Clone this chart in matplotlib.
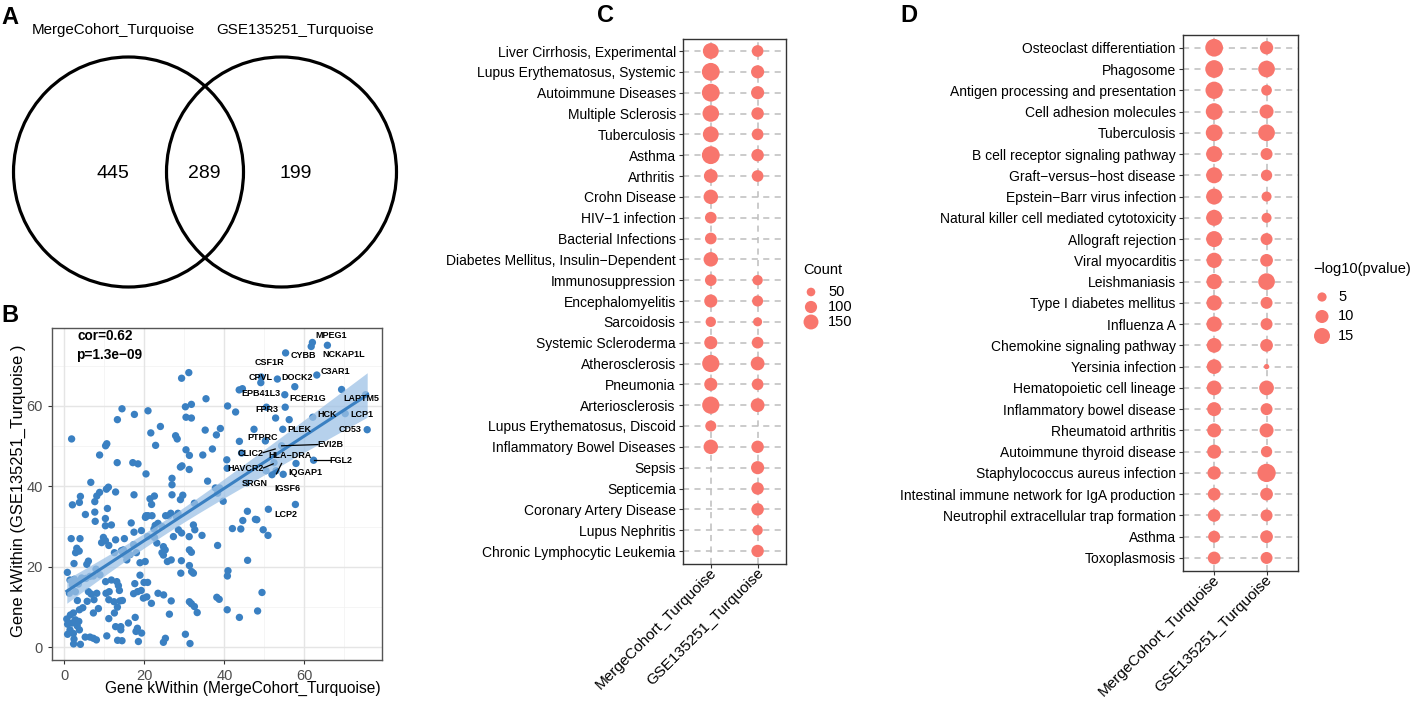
import numpy as np
import matplotlib
matplotlib.use('Agg')
import matplotlib.pyplot as plt
from matplotlib.patches import Circle

plt.rcParams['font.family'] = ['Liberation Sans', 'DejaVu Sans']
M = '\u2212'

# ---------------- data ----------------
venn_sets = ['MergeCohort_Turquoise', 'GSE135251_Turquoise']
venn_counts = [445, 289, 199]  # only left, both, only right

# (kWithin Merge, kWithin GSE)
kw_points = [
    (62.0, 75.8), (61.7, 74.8), (65.75, 75.1), (55.3, 73.2), (49.2, 67.2), (49.1, 65.8), (53.25, 66.7),
    (63.1, 67.7), (57.6, 64.8), (43.7, 64.0), (44.5, 64.3), (55.1, 62.8), (69.3, 64.1), (75.3, 62.8),
    (50.5, 59.7), (55.2, 59.7), (52.8, 57.0), (56.2, 56.6), (62.1, 57.2), (70.2, 58.1), (75.7, 54.1),
    (54.6, 54.2), (47.4, 54.2), (50.25, 51.3), (43.75, 51.2), (54.3, 50.1), (44.3, 48.3), (52.4, 45.9),
    (57.9, 45.7), (62.3, 46.5), (50.4, 43.9), (52.9, 43.9), (51.9, 42.9), (54.7, 43.0), (40.7, 44.5),
    (40.6, 46.6), (57.75, 35.5), (45.6, 40.9),
    (29.3, 66.9), (31.1, 68.3), (35.4, 61.8), (30.25, 59.8), (31.75, 60.4), (30.4, 57.2), (31.75, 57.0),
    (40.8, 60.0), (42.8, 58.5), (14.4, 59.3), (17.5, 57.9), (20.9, 58.8), (13.25, 56.6), (24.0, 54.9),
    (21.6, 53.3), (22.8, 50.2), (27.8, 52.6), (28.2, 51.8), (35.2, 54.0), (39.0, 54.4), (38.0, 52.8),
    (37.0, 49.3), (34.6, 47.8), (30.4, 49.1), (31.25, 47.7), (31.2, 44.2), (29.0, 44.8), (29.4, 45.1),
    (20.4, 43.1), (22.5, 37.6), (21.4, 36.9), (21.8, 35.5), (20.9, 32.7), (20.4, 32.7), (22.7, 30.3),
    (23.4, 30.8),
    (1.8, 51.8), (10.6, 50.6), (10.3, 50.1), (8.8, 47.8), (13.2, 45.9), (17.1, 45.9), (18.4, 45.6),
    (6.6, 41.0), (11.0, 39.8), (10.5, 39.3), (12.8, 38.6), (8.8, 38.5), (8.1, 37.6), (7.6, 36.2),
    (4.0, 37.5), (3.75, 36.0), (2.0, 35.4), (17.4, 37.9), (5.25, 33.0), (7.6, 33.6), (10.75, 34.5),
    (10.25, 32.0), (7.7, 31.3), (11.75, 30.4), (10.25, 30.2), (16.7, 30.9), (17.4, 28.6), (19.25, 29.0),
    (9.75, 27.3), (10.25, 26.5), (9.3, 26.0), (11.1, 25.3), (12.8, 26.7), (15.0, 27.0), (17.3, 25.5),
    (14.25, 24.0), (14.9, 23.1), (12.5, 23.5), (3.7, 23.9), (3.1, 24.6), (2.8, 23.5), (3.9, 27.0),
    (1.7, 27.0), (6.0, 21.4), (5.6, 20.6), (2.4, 20.8), (0.75, 18.6), (7.9, 19.4), (8.9, 18.0),
    (18.9, 21.0), (20.2, 21.3), (15.6, 21.7), (16.4, 23.0), (18.0, 23.5),
    (1.4, 16.7), (2.5, 16.9), (3.1, 16.3), (4.3, 17.2), (5.4, 17.1), (6.4, 17.6), (7.25, 17.7),
    (2.0, 15.5), (3.5, 15.7), (1.25, 13.4), (2.75, 13.8), (6.0, 13.8), (6.7, 13.2), (8.1, 13.4),
    (7.4, 11.8), (3.25, 11.6), (4.6, 9.8), (5.7, 11.4), (8.5, 9.6), (7.25, 8.5), (3.75, 9.3),
    (0.6, 7.0), (1.5, 8.0), (2.25, 8.5), (0.8, 5.7), (1.9, 6.0), (3.6, 6.4), (3.2, 5.3), (1.4, 4.3),
    (2.25, 3.4), (0.8, 3.2), (2.4, 2.0), (2.3, 0.8), (4.0, 0.7), (3.75, 4.3), (5.2, 2.5), (7.25, 2.2),
    (8.0, 1.8), (6.4, 2.5), (10.6, 2.8), (2.75, 6.8),
    (10.3, 16.3), (11.75, 16.7), (13.1, 16.3), (13.5, 15.3), (11.2, 13.8), (10.4, 13.4), (13.75, 14.1),
    (11.1, 11.8), (12.4, 11.3), (13.9, 11.5), (14.5, 11.6), (13.25, 9.95), (12.5, 8.5), (11.1, 7.1),
    (12.8, 5.1), (14.1, 5.1), (14.1, 4.3), (16.0, 6.0), (13.3, 1.7), (14.4, 1.6), (18.5, 1.4),
    (17.3, 13.3), (18.3, 13.8), (17.6, 15.8), (18.9, 17.9), (19.9, 16.1), (20.8, 16.1), (20.6, 12.5),
    (19.2, 14.1), (19.75, 12.2), (21.75, 10.9), (17.7, 7.4), (17.9, 3.9), (18.25, 4.7), (19.3, 3.5),
    (23.4, 13.4), (24.8, 13.0), (26.7, 11.5), (26.25, 8.2), (24.75, 1.2), (25.25, 2.2), (30.25, 3.2),
    (31.4, 0.9), (31.25, 11.3), (31.75, 10.8), (32.5, 10.1), (33.2, 8.6), (29.1, 18.4), (29.25, 21.5),
    (31.25, 20.3), (31.8, 18.8), (32.25, 18.4), (31.25, 24.2), (31.75, 23.6), (31.2, 27.5), (32.25, 30.4),
    (32.6, 29.2), (34.4, 27.8), (32.5, 35.8), (29.0, 36.7), (28.5, 29.2), (29.3, 28.4), (27.25, 27.5),
    (24.75, 25.0), (25.2, 24.2), (24.4, 23.5), (24.75, 22.9), (26.7, 21.7), (25.75, 21.3), (23.1, 25.9),
    (22.5, 27.3), (26.6, 33.3), (25.3, 32.7), (26.1, 32.7), (26.9, 37.9), (26.9, 40.4), (26.9, 42.0),
    (29.6, 37.8), (28.4, 33.3), (28.0, 32.5),
    (38.3, 38.3), (37.75, 39.6), (38.8, 39.6), (39.7, 36.3), (38.3, 25.3), (38.1, 12.4), (38.7, 11.9),
    (42.0, 29.5), (44.1, 29.4), (44.6, 31.5), (45.75, 33.8), (47.75, 31.8), (48.1, 31.7), (45.8, 21.6),
    (40.7, 9.3), (43.75, 7.4), (40.75, 17.7), (40.9, 19.0), (51.0, 34.3), (49.7, 29.2), (50.9, 27.8),
    (49.4, 13.6), (48.3, 9.0), (35.8, 41.3), (20.25, 32.3), (21.9, 32.7), (20.8, 27.5), (22.4, 29.4),
    (24.4, 30.0), (14.75, 24.2),
]
cor_text = ['cor=0.62', 'p=1.3e' + M + '09']

# gene label: (name, label x, label y, segment (x0, y0, x1, y1) or None)
gene_labels = [
    ('MPEG1', 66.8, 77.6, None), ('NCKAP1L', 69.75, 72.8, None), ('CYBB', 59.75, 72.5, None),
    ('CSF1R', 51.25, 70.8, None), ('CPVL', 49.1, 67.0, None), ('DOCK2', 58.25, 67.0, None),
    ('C3AR1', 67.8, 68.5, None), ('EPB41L3', 49.25, 63.1, None), ('FCER1G', 60.7, 61.9, None),
    ('LAPTM5', 74.2, 61.9, None), ('FPR3', 50.6, 59.2, None), ('HCK', 65.8, 58.0, None),
    ('LCP1', 74.3, 58.0, None), ('PLEK', 58.7, 54.1, None), ('CD53', 71.4, 54.1, None),
    ('PTPRC', 49.6, 52.2, None), ('EVI2B', 66.6, 50.3, (63.4, 50.4, 54.3, 50.1)),
    ('CLIC2', 46.6, 48.2, (49.7, 48.4, 52.7, 49.3)), ('HLA' + M + 'DRA', 56.5, 47.6, (54.3, 45.7, 53.0, 43.1)),
    ('FGL2', 69.1, 46.5, (66.5, 46.5, 62.3, 46.5)), ('HAVCR2', 45.3, 44.4, (49.8, 44.6, 52.2, 45.6)),
    ('IQGAP1', 60.3, 43.4, None), ('SRGN', 47.7, 40.6, None), ('IGSF6', 55.75, 39.5, None),
    ('LCP2', 55.4, 33.1, None),
]

do_terms = ['Liver Cirrhosis, Experimental', 'Lupus Erythematosus, Systemic', 'Autoimmune Diseases',
            'Multiple Sclerosis', 'Tuberculosis', 'Asthma', 'Arthritis', 'Crohn Disease',
            'HIV' + M + '1 infection', 'Bacterial Infections', 'Diabetes Mellitus, Insulin' + M + 'Dependent',
            'Immunosuppression', 'Encephalomyelitis', 'Sarcoidosis', 'Systemic Scleroderma',
            'Atherosclerosis', 'Pneumonia', 'Arteriosclerosis', 'Lupus Erythematosus, Discoid',
            'Inflammatory Bowel Diseases', 'Sepsis', 'Septicemia', 'Coronary Artery Disease',
            'Lupus Nephritis', 'Chronic Lymphocytic Leukemia']
nan = np.nan
do_count_merge = [169, 214, 214, 184, 169, 214, 128, 141, 92, 92, 141, 92, 116, 72, 116,
                  200, 116, 200, 82, 141, nan, nan, nan, nan, nan]
do_count_gse = [92, 116, 116, 104, 92, 104, 92, nan, nan, nan, nan, 72, 82, 55, 92,
                128, 92, 128, nan, 104, 116, 104, 104, 72, 104]
count_breaks = [50, 100, 150]

kegg_terms = ['Osteoclast differentiation', 'Phagosome', 'Antigen processing and presentation',
              'Cell adhesion molecules', 'Tuberculosis', 'B cell receptor signaling pathway',
              'Graft' + M + 'versus' + M + 'host disease', 'Epstein' + M + 'Barr virus infection',
              'Natural killer cell mediated cytotoxicity', 'Allograft rejection', 'Viral myocarditis',
              'Leishmaniasis', 'Type I diabetes mellitus', 'Influenza A', 'Chemokine signaling pathway',
              'Yersinia infection', 'Hematopoietic cell lineage', 'Inflammatory bowel disease',
              'Rheumatoid arthritis', 'Autoimmune thyroid disease', 'Staphylococcus aureus infection',
              'Intestinal immune network for IgA production', 'Neutrophil extracellular trap formation',
              'Asthma', 'Toxoplasmosis']
kegg_lp_merge = [18.4, 18.4, 17.5, 16.3, 16.3, 15.0, 15.0, 15.0, 15.0, 15.0, 13.7, 13.7, 13.7,
                 13.7, 12.7, 12.7, 12.7, 11.5, 11.5, 11.5, 10.4, 9.5, 9.5, 8.4, 9.5]
kegg_lp_gse = [10.4, 16.3, 6.7, 11.5, 16.3, 8.4, 7.5, 5.9, 5.9, 8.4, 9.5, 16.3, 8.4, 8.4, 9.5,
               1.65, 12.7, 8.4, 11.5, 7.5, 19.6, 9.5, 8.4, 9.5, 8.4]
lp_breaks = [5, 10, 15]

groups = ['MergeCohort_Turquoise', 'GSE135251_Turquoise']

# ---------------- figure ----------------
W, H = 1416, 703
fig = plt.figure(figsize=(W / 100, H / 100), dpi=100)


def box(x0, y0, x1, y1):
    # pixel box (top-left origin) -> figure rect
    return [x0 / W, 1 - y1 / H, (x1 - x0) / W, (y1 - y0) / H]


RED = '#F8766D'
BLUE = '#3A80C2'

# ---- A : venn ----
ax_a = fig.add_axes(box(0, 0, 420, 300))
ax_a.set_xlim(0, 420)
ax_a.set_ylim(300, 0)
ax_a.axis('off')
for cx in (128.5, 281.5):
    ax_a.add_patch(Circle((cx, 172), 115, fill=False, lw=2.3, ec='black'))
ax_a.text(113, 30, venn_sets[0], ha='center', va='center', fontsize=10.9)
ax_a.text(295, 30, venn_sets[1], ha='center', va='center', fontsize=10.9)
for x, c in zip((113, 204, 296), venn_counts):
    ax_a.text(x, 173, str(c), ha='center', va='center', fontsize=14)

# ---- B : scatter ----
ax_b = fig.add_axes(box(52, 328, 382, 660))
xs = np.array([p[0] for p in kw_points])
ys = np.array([p[1] for p in kw_points])
ax_b.set_xlim(-3.1, 79.4)
ax_b.set_ylim(-3.2, 79.4)
for v in (10, 30, 50, 70):
    ax_b.axvline(v, color='#f2f2f2', lw=0.5, zorder=0)
    ax_b.axhline(v, color='#f2f2f2', lw=0.5, zorder=0)
for v in (0, 20, 40, 60):
    ax_b.axvline(v, color='#e5e5e5', lw=1.0, zorder=0)
    ax_b.axhline(v, color='#e5e5e5', lw=1.0, zorder=0)
ax_b.scatter(xs, ys, s=28, color=BLUE, edgecolors='none', zorder=2)
# linear fit with 95% band
slope, icpt = np.polyfit(xs, ys, 1)
n = len(xs)
res = ys - (slope * xs + icpt)
s_err = np.sqrt(np.sum(res ** 2) / (n - 2))
gx = np.linspace(xs.min(), xs.max(), 100)
se = s_err * np.sqrt(1 / n + (gx - xs.mean()) ** 2 / np.sum((xs - xs.mean()) ** 2))
gy = slope * gx + icpt
ax_b.fill_between(gx, gy - 1.97 * se, gy + 1.97 * se, color='#9ec2e6', alpha=0.75, lw=0, zorder=3)
ax_b.plot(gx, gy, color=BLUE, lw=2.2, zorder=4)
ax_b.text(3.4, 77.4, cor_text[0], fontsize=9.8, fontweight='bold', va='center', zorder=5)
ax_b.text(2.9, 72.6, cor_text[1], fontsize=9.8, fontweight='bold', va='center', zorder=5)
for name, lx, ly, seg in gene_labels:
    ax_b.text(lx, ly, name, fontsize=6.5, fontweight='bold', ha='center', va='center', zorder=6)
    if seg is not None:
        ax_b.plot([seg[0], seg[2]], [seg[1], seg[3]], color='black', lw=0.9, zorder=5)
ax_b.set_xticks([0, 20, 40, 60])
ax_b.set_yticks([0, 20, 40, 60])
ax_b.tick_params(labelsize=10.5, labelcolor='#4d4d4d', color='#333333', length=3, width=0.8)
ax_b.set_xlabel('Gene kWithin (MergeCohort_Turquoise)', fontsize=11.2)
ax_b.xaxis.set_label_coords((243 - 52) / 330, -0.063)
ax_b.set_ylabel('Gene kWithin (GSE135251_Turquoise )', fontsize=11.9)
ax_b.yaxis.set_label_coords(-0.079, (660 - 491) / 332)
for sp in ax_b.spines.values():
    sp.set_color('#555555')
    sp.set_linewidth(1.0)


# ---- C, D : dot plots ----
def dotplot(ax, terms, col_a, col_b, size_fn):
    n_t = len(terms)
    yy = np.arange(n_t)
    for j, col in enumerate((col_a, col_b)):
        v = np.array(col, dtype=float)
        ok = ~np.isnan(v)
        ax.scatter(np.full(ok.sum(), j), yy[ok], s=size_fn(v[ok]), color=RED,
                   edgecolors='none', zorder=3)
    ax.set_xlim(-0.6, 1.6)
    ax.set_ylim(n_t - 0.4, -0.6)
    ax.set_yticks(yy)
    ax.set_yticklabels(terms, fontsize=10)
    ax.set_xticks([0, 1])
    ax.set_xticklabels([])
    for j, g in enumerate(groups):
        ax.annotate(g, xy=(j, 0), xycoords=('data', 'axes fraction'), xytext=(-1.0, -1.5),
                    textcoords='offset points', rotation=45, ha='right', va='top',
                    rotation_mode='anchor', fontsize=11)
    ax.grid(True, color='#bdbdbd', linestyle=(0, (4, 3.5)), lw=1.1)
    ax.set_axisbelow(True)
    ax.tick_params(length=3, color='#333333', width=0.8, pad=2)
    for sp in ax.spines.values():
        sp.set_color('#333333')
        sp.set_linewidth(1.0)


def size_c(v):
    return 0.77 * np.asarray(v, dtype=float)


def size_d(v):
    return 8.84 * np.asarray(v, dtype=float)


ax_c = fig.add_axes(box(682.7, 38.5, 785.7, 563.5))
dotplot(ax_c, do_terms, do_count_merge, do_count_gse, size_c)
ax_d = fig.add_axes(box(1182.7, 35, 1298, 570.7))
dotplot(ax_d, kegg_terms, kegg_lp_merge, kegg_lp_gse, size_d)

# legends drawn on a pixel overlay
ov = fig.add_axes([0, 0, 1, 1], facecolor='none')
ov.set_xlim(0, W)
ov.set_ylim(H, 0)
ov.axis('off')
ov.text(803, 270, 'Count', fontsize=10.5, ha='left', va='center')
for v, yv in zip(count_breaks, (292, 307, 322)):
    ov.scatter([811], [yv], s=size_c(v), color=RED, edgecolors='none')
    ov.text(828, yv, str(v), fontsize=10.5, ha='left', va='center')
ov.text(1313, 269, M + 'log10(pvalue)', fontsize=10.5, ha='left', va='center')
for v, yv in zip(lp_breaks, (297, 316.5, 336)):
    ov.scatter([1322], [yv], s=size_d(v), color=RED, edgecolors='none')
    ov.text(1338, yv, str(v), fontsize=10.5, ha='left', va='center')

# panel letters
for lab, x, y in (('A', 1, 17), ('B', 1, 315), ('C', 597, 15), ('D', 900, 15)):
    ov.text(x, y, lab, fontsize=17, fontweight='bold', va='center', ha='left')

fig.savefig('out.png', dpi=100)
